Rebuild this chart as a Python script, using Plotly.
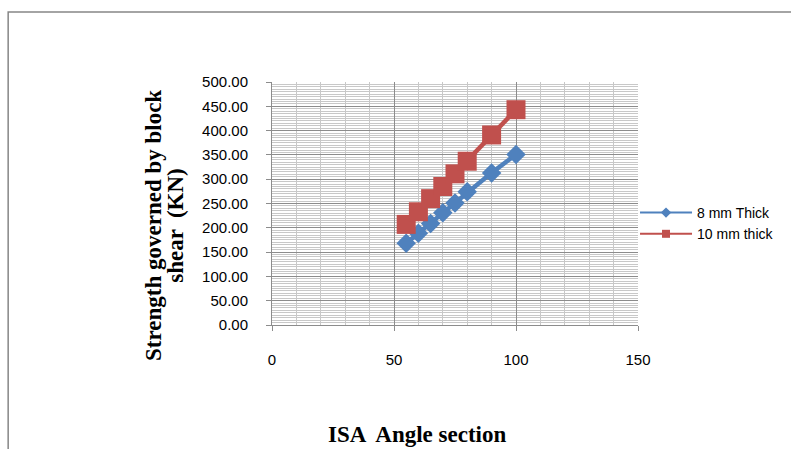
import plotly.graph_objects as go

# Data
isa_section = [55, 60, 65, 70, 75, 80, 90, 100]
thick_8mm = [168, 189, 209, 231, 251, 274, 313, 351]
thick_10mm = [207, 233, 260, 285, 311, 337, 391, 443]

series_names = ["8 mm Thick", "10 mm thick"]
x_ticks = [0, 50, 100, 150]
y_ticks = [0, 50, 100, 150, 200, 250, 300, 350, 400, 450, 500]

BLUE = "#4F81BD"
RED = "#C0504D"
GRID_MAJOR = "#8C8C8C"
GRID_MINOR = "#C8C8C8"

W, H = 791, 449
L, R, T, B = 272, W - 641, 82, H - 325
PW, PH = 641 - L, 325 - T


def px_to_paper_x(px):
    return (px - L) / PW


def px_to_paper_y(py):
    return (325 - py) / PH


fig = go.Figure()

# Plotted data (no legend)
fig.add_trace(go.Scatter(
    x=isa_section, y=thick_8mm, mode="lines+markers", showlegend=False,
    line=dict(color=BLUE, width=4.5),
    marker=dict(symbol="diamond", size=15, color=BLUE),
))
fig.add_trace(go.Scatter(
    x=isa_section, y=thick_10mm, mode="lines+markers", showlegend=False,
    line=dict(color=RED, width=4.5),
    marker=dict(symbol="square", size=19, color=RED),
))

# Legend entries (thin lines, small markers like the reference legend)
fig.add_trace(go.Scatter(
    x=[None], y=[None], mode="lines+markers", name=series_names[0],
    legendgroup="a",
    line=dict(color=BLUE, width=2),
    marker=dict(symbol="diamond", size=8, color=BLUE),
))
fig.add_trace(go.Scatter(
    x=[None], y=[None], mode="lines+markers", name=series_names[1],
    legendgroup="b",
    line=dict(color=RED, width=2),
    marker=dict(symbol="square", size=8, color=RED),
))

tick_font = dict(family="Liberation Sans", size=15, color="#000000")

fig.update_xaxes(
    range=[0, 150], tickvals=x_ticks, ticktext=[str(v) for v in x_ticks],
    showgrid=True, gridcolor=GRID_MAJOR, gridwidth=1,
    minor=dict(dtick=10, showgrid=True, gridcolor=GRID_MINOR, gridwidth=1),
    showline=True, linecolor=GRID_MAJOR, linewidth=1,
    ticks="outside", ticklen=5, tickcolor=GRID_MAJOR,
    zeroline=False, tickfont=tick_font, ticklabelstandoff=16,
)
fig.update_yaxes(
    range=[0, 500], tickvals=y_ticks, ticktext=[f"{v:.2f}" for v in y_ticks],
    showgrid=True, gridcolor=GRID_MAJOR, gridwidth=1,
    minor=dict(dtick=5, showgrid=True, gridcolor=GRID_MINOR, gridwidth=1),
    showline=True, linecolor=GRID_MAJOR, linewidth=1,
    ticks="outside", ticklen=5, tickcolor=GRID_MAJOR,
    zeroline=False, tickfont=tick_font, ticklabelstandoff=15,
)

title_font = dict(family="Liberation Serif", size=23, color="#000000")

annotations = [
    dict(text="<b>Strength governed by block</b>", textangle=-90,
         x=px_to_paper_x(152), y=px_to_paper_y(225), xref="paper", yref="paper",
         xanchor="center", yanchor="middle", showarrow=False, font=title_font),
    dict(text="<b>shear  (KN)</b>", textangle=-90,
         x=px_to_paper_x(174), y=px_to_paper_y(225), xref="paper", yref="paper",
         xanchor="center", yanchor="middle", showarrow=False, font=title_font),
    dict(text="<b>ISA  Angle section</b>",
         x=px_to_paper_x(418), y=px_to_paper_y(434), xref="paper", yref="paper",
         xanchor="center", yanchor="middle", showarrow=False, font=title_font),
]

shapes = [
    dict(type="rect", xref="paper", yref="paper",
         x0=px_to_paper_x(6), x1=px_to_paper_x(805),
         y0=px_to_paper_y(470), y1=px_to_paper_y(12),
         line=dict(color="#868686", width=1.5), fillcolor="rgba(0,0,0,0)",
         layer="below"),
]

fig.update_layout(
    width=W, height=H,
    margin=dict(l=L, r=R, t=T, b=B, pad=0),
    paper_bgcolor="white", plot_bgcolor="white",
    annotations=annotations, shapes=shapes,
    legend=dict(
        x=px_to_paper_x(638), y=px_to_paper_y(197), xanchor="left", yanchor="top",
        font=dict(family="Liberation Sans", size=14, color="#000000"),
        bgcolor="rgba(0,0,0,0)", borderwidth=0, tracegroupgap=4,
        itemwidth=52, traceorder="normal",
    ),
)

fig.write_html(
    "out.html",
    config={"displayModeBar": False},
    post_script="document.body.style.margin='0';document.body.style.overflow='hidden';",
)
